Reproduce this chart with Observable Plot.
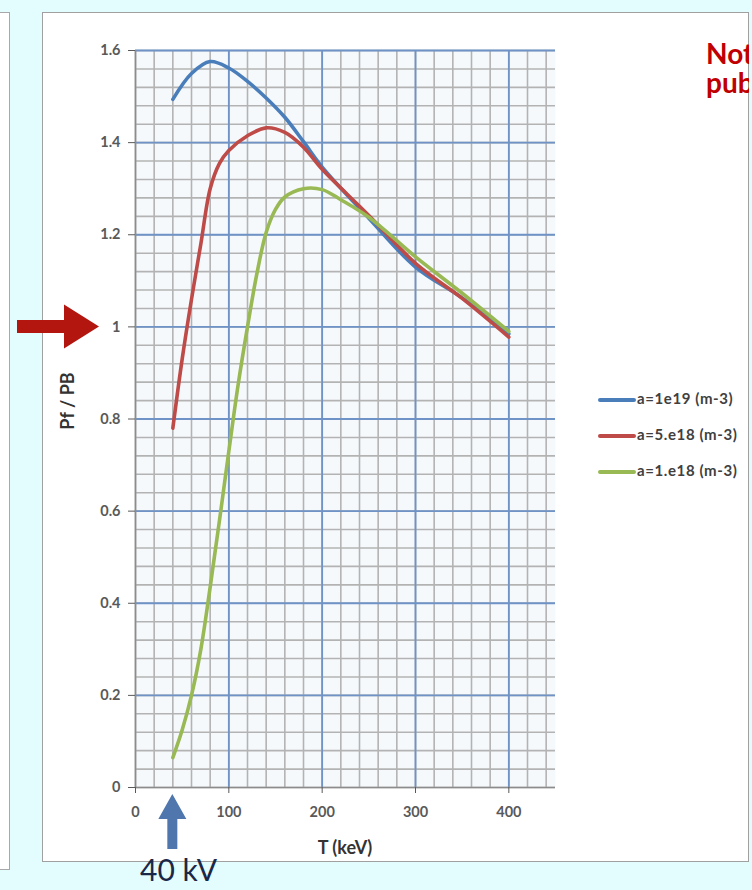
<!DOCTYPE html>
<html><head><meta charset="utf-8">
<script src="https://cdn.jsdelivr.net/npm/d3@7"></script>
<script src="https://cdn.jsdelivr.net/npm/@observablehq/plot@0.6"></script>
<style>
html,body{margin:0;padding:0;background:#e3fcfd;}
#page{position:relative;width:752px;height:890px;overflow:hidden;background:#e3fcfd;font-family:Lato,"Open Sans",sans-serif;}
#leftpanel{position:absolute;left:-3px;top:12px;width:11px;height:856px;background:#fff;border:1.5px solid #a8a8a8;}
#panel{position:absolute;left:42px;top:12px;width:705px;height:848px;background:#fff;border:1.5px solid #a0a0a0;}
#chart{position:absolute;left:0;top:0;}
.abs{position:absolute;white-space:nowrap;}
#noteclip{position:absolute;left:700px;top:30px;width:49px;height:80px;overflow:hidden;}
#note{position:absolute;left:6px;top:9px;color:#c00000;font-weight:bold;font-size:28px;line-height:29px;white-space:nowrap;}
#bottomnote{left:385px;top:885px;color:#e00000;font-weight:bold;font-size:26px;}
#kv{left:140px;top:851px;color:#1b2747;font-size:30px;}
#xtitle{left:345px;top:836px;transform:translateX(-50%);font-weight:bold;font-size:18px;color:#333;}
#ytitle{left:67px;top:401px;transform:translate(-50%,-50%) rotate(-90deg);font-weight:bold;font-size:18px;color:#333;}
.leg{position:absolute;left:598px;height:14px;}
.leg span.l{position:absolute;left:0;top:5px;width:38px;height:4px;border-radius:2px;}
.leg span.t{position:absolute;left:39px;top:-4px;font-weight:bold;font-size:15px;letter-spacing:0.6px;color:#404040;white-space:nowrap;}
#arrows{position:absolute;left:0;top:0;pointer-events:none;}
</style></head>
<body>
<div id="page">
  <div id="leftpanel"></div>
  <div id="panel"></div>
  <div id="chart"></div>
  <div id="noteclip"><div id="note">Not yet<br>published</div></div>
  <div class="abs" id="xtitle">T (keV)</div>
  <div class="abs" id="ytitle">Pf / PB</div>
  <div id="legend"></div>
  <svg id="arrows" width="752" height="890"></svg>
  <div class="abs" id="kv">40 kV</div>
  <div class="abs" id="bottomnote">With kind permission</div>
</div>
<script>
// ---- data ----
const seriesNames = ["a=1e19 (m-3)", "a=5.e18 (m-3)", "a=1.e18 (m-3)"];
const seriesColors = ["#4a7ebb", "#be4b48", "#98b954"];

const T_blue = [40, 60, 80, 100, 120, 140, 160, 180, 200, 250, 300, 350, 400];
const v_blue = [1.494, 1.55, 1.576, 1.562, 1.533, 1.497, 1.455, 1.402, 1.347, 1.236, 1.130, 1.063, 0.985];

const T_red = [40, 50, 60, 70, 80, 90, 100, 120, 140, 160, 180, 200, 250, 300, 350, 400];
const v_red = [0.78, 0.93, 1.06, 1.18, 1.30, 1.355, 1.383, 1.415, 1.432, 1.422, 1.39, 1.342, 1.242, 1.138, 1.062, 0.978];

const T_green = [40, 50, 60, 70, 80, 90, 100, 110, 120, 130, 140, 150, 160, 180, 200, 220, 250, 300, 350, 400];
const v_green = [0.065, 0.125, 0.20, 0.30, 0.435, 0.58, 0.73, 0.875, 1.0, 1.115, 1.205, 1.255, 1.282, 1.30, 1.298, 1.276, 1.238, 1.152, 1.073, 0.99];

const xTicks = [0, 100, 200, 300, 400];
const yTicks = [0, 0.2, 0.4, 0.6, 0.8, 1, 1.2, 1.4, 1.6];
const xMinor = d3.range(0, 450, 20);
const yMinor = d3.range(0, 1.6001, 0.04);
const arrowT = 40;    // annotated temperature (40 kV)
const arrowRatio = 1; // annotated ratio

// ---- build table ----
const rows = [];
[[T_blue, v_blue], [T_red, v_red], [T_green, v_green]].forEach(([T, v], i) => {
  T.forEach((t, j) => rows.push({T: t, v: v[j], s: seriesNames[i]}));
});

const chart = Plot.plot({
  width: 752, height: 890,
  marginLeft: 135, marginRight: 197, marginTop: 50, marginBottom: 103,
  style: {background: "transparent", fontFamily: "Lato, 'Open Sans', sans-serif"},
  x: {domain: [0, 450]},
  y: {domain: [0, 1.6]},
  color: {domain: seriesNames, range: seriesColors},
  marks: [
    Plot.frame({fill: "#f6f9fc", stroke: null}),
    Plot.ruleX(xMinor, {stroke: "#b3b3b3", strokeWidth: 1.6}),
    Plot.ruleY(yMinor, {stroke: "#b3b3b3", strokeWidth: 1.6}),
    Plot.ruleX(xTicks.filter(d => d > 0), {stroke: "#6f93c6", strokeWidth: 1.8}),
    Plot.ruleY(yTicks.filter(d => d > 0), {stroke: "#6f93c6", strokeWidth: 1.8}),
    Plot.ruleX([0], {stroke: "#8c8c8c", strokeWidth: 1.6}),
    Plot.ruleY([0], {stroke: "#8c8c8c", strokeWidth: 1.6}),
    Plot.axisY(yTicks, {tickSize: 7, tickPadding: 8, color: "#595959", fontWeight: "bold", fontSize: 14.5,
      tickFormat: d => String(+d.toFixed(1)), label: null}),
    Plot.axisX(xTicks, {tickSize: 6, tickPadding: 13, color: "#595959", fontWeight: "bold", fontSize: 14.5,
      label: null}),
    Plot.line(rows, {x: "T", y: "v", z: "s", stroke: "s", strokeWidth: 3.6, curve: "catmull-rom"})
  ]
});
document.getElementById("chart").appendChild(chart);

// ---- legend ----
const leg = document.getElementById("legend");
const legY = [400, 436, 472];
seriesNames.forEach((n, i) => {
  const d = document.createElement("div");
  d.className = "leg";
  d.style.top = (legY[i] - 7) + "px";
  d.innerHTML = `<span class="l" style="background:${seriesColors[i]}"></span><span class="t">${n}</span>`;
  leg.appendChild(d);
});

// ---- arrows (positioned from Plot scales) ----
const xs = chart.scale("x"), ys = chart.scale("y");
const svg = d3.select("#arrows");
const ty = ys.apply(arrowRatio), tx0 = xs.apply(0);
const tipX = tx0 - 36;
svg.append("polygon")
  .attr("points", [[17, ty - 6.5], [tipX - 35, ty - 6.5], [tipX - 35, ty - 22], [tipX, ty], [tipX - 35, ty + 22], [tipX - 35, ty + 6.5], [17, ty + 6.5]].join(" "))
  .attr("fill", "#b3150f");
const cx = xs.apply(arrowT), tipY = ys.apply(0) + 7;
svg.append("polygon")
  .attr("points", [[cx - 5, tipY + 55], [cx - 5, tipY + 25], [cx - 14, tipY + 25], [cx, tipY], [cx + 14, tipY + 25], [cx + 5, tipY + 25], [cx + 5, tipY + 55]].join(" "))
  .attr("fill", "#4f77ad");
</script>
</body></html>
